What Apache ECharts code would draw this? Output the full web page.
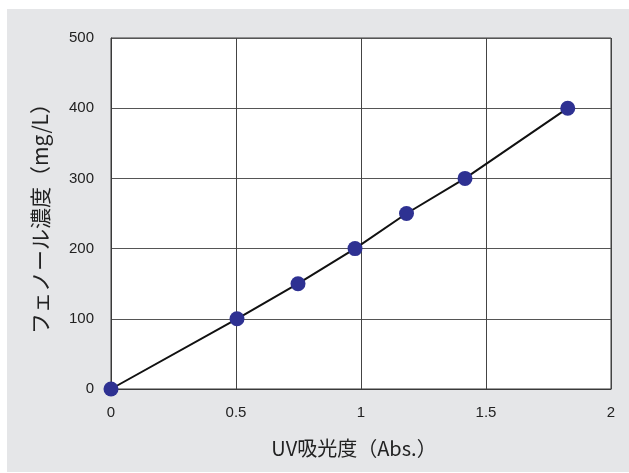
<!DOCTYPE html>
<html>
<head>
<meta charset="utf-8">
<script src="https://cdn.jsdelivr.net/npm/echarts@6/dist/echarts.min.js"></script>
<style>
  html, body { margin: 0; padding: 0; background: #ffffff; }
  #chart { width: 629px; height: 473px; }
</style>
</head>
<body>
<div id="chart"></div>
<script>
// UV absorbance vs. phenol concentration (calibration)
const absorbance = [0, 0.504, 0.748, 0.976, 1.182, 1.416, 1.827];
const phenolConc = [0, 100, 150, 200, 250, 300, 400];
const xTicks = [0, 0.5, 1, 1.5, 2];
const yTicks = [0, 100, 200, 300, 400, 500];

const points = absorbance.map((a, i) => [a, phenolConc[i]]);

const chart = echarts.init(document.getElementById('chart'), null, { renderer: 'canvas' });

const labelFont = 'Liberation Sans, Arial, sans-serif';
const cjkFont = '"Noto Sans CJK JP", "Noto Sans", sans-serif';

chart.setOption({
  backgroundColor: '#ffffff',
  animation: false,
  graphic: [{
    type: 'rect',
    z: -10,
    silent: true,
    shape: { x: 7, y: 9, width: 622, height: 463 },
    style: { fill: '#e5e6e8' }
  }],
  grid: {
    left: 111, top: 38, right: 18, bottom: 84,
    show: true,
    backgroundColor: '#ffffff',
    borderColor: '#3a3a3a',
    borderWidth: 1
  },
  xAxis: {
    type: 'value',
    min: xTicks[0], max: xTicks[xTicks.length - 1], interval: 0.5,
    name: 'UV吸光度（Abs.）',
    nameLocation: 'middle',
    nameGap: 49,
    nameTextStyle: { fontFamily: cjkFont, fontSize: 20, color: '#222222', padding: [0, 14, 0, 0] },
    axisLine: { show: true, lineStyle: { color: '#3a3a3a', width: 1 } },
    axisTick: { show: false },
    axisLabel: {
      margin: 16, fontFamily: labelFont, fontSize: 15, color: '#222222',
      formatter: v => String(v)
    },
    splitLine: { show: true, lineStyle: { color: '#444444', width: 1 } }
  },
  yAxis: {
    type: 'value',
    min: yTicks[0], max: yTicks[yTicks.length - 1], interval: 100,
    name: 'フェノール濃度（mg/L）',
    nameLocation: 'middle',
    nameRotate: 90,
    nameGap: 60,
    nameTextStyle: { fontFamily: cjkFont, fontSize: 21, color: '#222222' },
    axisLine: { show: true, lineStyle: { color: '#3a3a3a', width: 1 } },
    axisTick: { show: false },
    axisLabel: { margin: 17, fontFamily: labelFont, fontSize: 15, color: '#222222' },
    splitLine: { show: true, lineStyle: { color: '#555555', width: 1 } }
  },
  series: [
    {
      type: 'line',
      data: points,
      showSymbol: false,
      symbol: 'none',
      lineStyle: { color: '#111111', width: 2 },
      z: 2
    },
    {
      type: 'scatter',
      data: points,
      symbol: 'circle',
      symbolSize: 15,
      itemStyle: { color: '#2e3192', opacity: 1 },
      z: 3
    }
  ]
});
</script>
</body>
</html>
